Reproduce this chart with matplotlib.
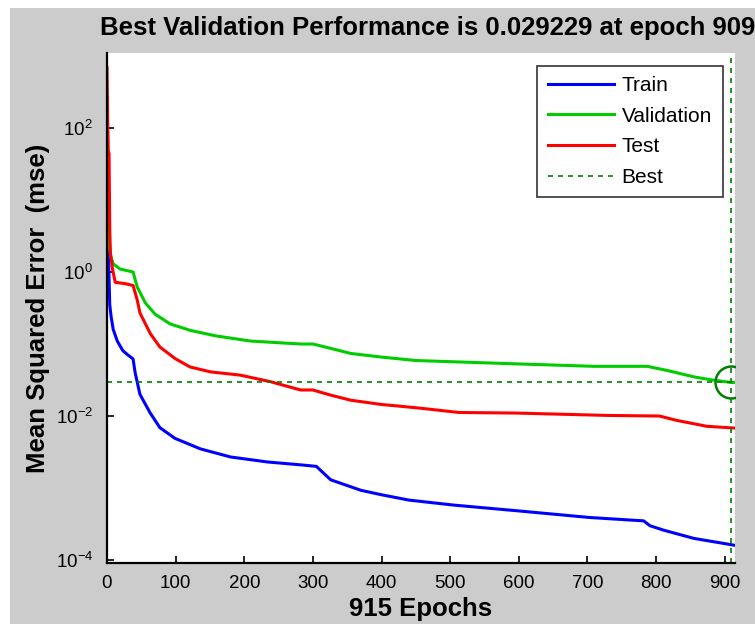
import matplotlib
matplotlib.use("Agg")
import matplotlib.pyplot as plt
from matplotlib.patches import Rectangle
import numpy as np

# values (epoch, mse)
train_ep = [0, 1, 2, 3, 4, 6, 9, 15, 23, 30, 38, 41, 48, 63, 77, 99, 136, 180,
            234, 282, 305, 326, 370, 399, 440, 505, 601, 703, 782, 791, 811, 855, 915]
train_mse = [23, 4.0, 2.0, 0.79, 0.35, 0.24, 0.16, 0.11, 0.081, 0.071, 0.062, 0.040,
             0.020, 0.011, 0.0069, 0.0049, 0.0035, 0.0027, 0.0023, 0.0021, 0.0020,
             0.0013, 0.00093, 0.00081, 0.00068, 0.00058, 0.00048, 0.00039, 0.00035,
             0.00030, 0.00026, 0.00020, 0.00016]

val_ep = [0, 1, 2, 4, 6, 9, 19, 38, 44, 56, 70, 92, 121, 158, 209, 282, 300, 326,
          355, 399, 450, 571, 709, 787, 816, 855, 879, 909, 915]
val_mse = [32, 10, 4.0, 2.0, 1.6, 1.3, 1.1, 1.0, 0.62, 0.37, 0.26, 0.19, 0.155,
           0.13, 0.11, 0.10, 0.10, 0.087, 0.074, 0.066, 0.059, 0.054, 0.049, 0.049,
           0.043, 0.035, 0.032, 0.029229, 0.0293]

test_ep = [0, 1, 2, 3, 4, 5, 8, 12, 26, 38, 44, 48, 63, 77, 99, 121, 151, 194, 238,
           282, 300, 326, 355, 399, 455, 513, 596, 728, 805, 830, 874, 915]
test_mse = [690, 120, 45, 45, 4.0, 1.8, 1.1, 0.72, 0.69, 0.65, 0.41, 0.27, 0.14,
            0.091, 0.063, 0.048, 0.041, 0.037, 0.030, 0.023, 0.023, 0.0195, 0.0166,
            0.0145, 0.0129, 0.0112, 0.011, 0.0102, 0.010, 0.0087, 0.0072, 0.0068]

best_epoch = 909
best_perf = 0.029229
n_epochs = 915

plt.rcParams['font.family'] = ['Liberation Sans', 'DejaVu Sans']

fig = plt.figure(figsize=(7.55, 6.24), dpi=100)
fig.patches.append(Rectangle((10 / 755, 0), 1, 1 - 8 / 624, transform=fig.transFigure,
                             facecolor='#cccccc', edgecolor='none', zorder=-10))
ax = fig.add_axes([107 / 755, 1 - 563 / 624, 628 / 755, 510 / 624])

ax.plot(train_ep, train_mse, color=(0, 0, 1), lw=2.2, label='Train')
ax.plot(val_ep, val_mse, color=(0, 0.8, 0), lw=2.2, label='Validation')
ax.plot(test_ep, test_mse, color=(1, 0, 0), lw=2.2, label='Test')

best_col = (0, 0.5, 0)
ax.axhline(best_perf, color=best_col, ls=(0, (3, 3)), lw=1.2, label='Best')
ax.axvline(best_epoch, color=best_col, ls=(0, (3, 3)), lw=1.2)
ax.plot([best_epoch], [best_perf], 'o', ms=23, mfc='none', mec=best_col, mew=1.8)

ax.set_yscale('log')
ax.set_xlim(0, n_epochs)
ax.set_ylim(9.1e-5, 1100)
ax.set_xticks(np.arange(0, 901, 100))
ax.set_yticks([1e-4, 1e-2, 1e0, 1e2])
ax.yaxis.set_minor_locator(matplotlib.ticker.NullLocator())
ax.tick_params(direction='in', length=5, width=1.2, labelsize=13.5, pad=9)
ax.tick_params(axis='y', pad=10)

for s in ['top', 'right']:
    ax.spines[s].set_visible(False)
for s in ['left', 'bottom']:
    ax.spines[s].set_linewidth(1.6)

ax.set_title('Best Validation Performance is %g at epoch %d' % (best_perf, best_epoch),
             fontsize=18.5, fontweight='bold', pad=13, x=0.51)
ax.set_xlabel('%d Epochs' % n_epochs, fontsize=18.5, fontweight='bold', labelpad=3)
ax.set_ylabel('Mean Squared Error  (mse)', fontsize=18.5, fontweight='bold', labelpad=4)

leg = ax.legend(loc='upper right', fontsize=15, frameon=True, fancybox=False,
                handlelength=3.2, borderaxespad=0.6, labelspacing=0.56,
                handletextpad=0.35, borderpad=0.5)
leg.get_frame().set_edgecolor('black')
leg.get_frame().set_linewidth(1.2)

fig.savefig('out.png', dpi=100)
